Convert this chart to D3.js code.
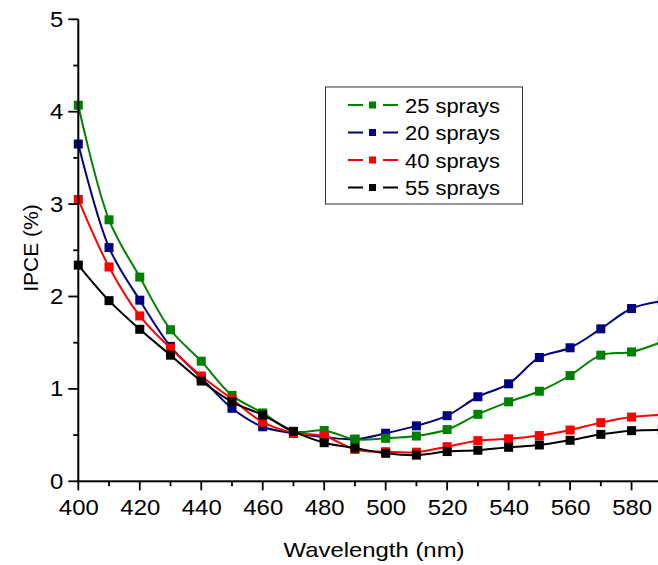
<!DOCTYPE html>
<html>
<head>
<meta charset="utf-8">
<script src="https://cdn.jsdelivr.net/npm/d3@7"></script>
<style>
  html, body { margin: 0; padding: 0; background: #fff; color: #000; }
  svg { display: block; overflow: hidden; }
  text { font-family: "Liberation Sans", Arial, sans-serif; fill: #000; }
</style>
</head>
<body>
<div id="chart"></div>
<script>
// wavelength (nm)
const wavelengths = [400, 410, 420, 430, 440, 450, 460, 470, 480, 490, 500, 510, 520, 530, 540, 550, 560, 570, 580, 590];

// IPCE (%)
const sprays25 = [4.07, 2.83, 2.21, 1.64, 1.30, 0.93, 0.74, 0.54, 0.55, 0.455, 0.465, 0.49, 0.56, 0.725, 0.86, 0.975, 1.145, 1.365, 1.40, 1.51];
const sprays20 = [3.65, 2.53, 1.96, 1.46, 1.12, 0.79, 0.59, 0.52, 0.48, 0.455, 0.52, 0.60, 0.71, 0.915, 1.055, 1.34, 1.445, 1.65, 1.87, 1.95];
const sprays40 = [3.05, 2.32, 1.79, 1.44, 1.14, 0.89, 0.64, 0.525, 0.49, 0.345, 0.32, 0.315, 0.375, 0.44, 0.46, 0.495, 0.555, 0.635, 0.695, 0.72];
const sprays55 = [2.34, 1.955, 1.645, 1.365, 1.085, 0.86, 0.717, 0.54, 0.418, 0.36, 0.303, 0.283, 0.322, 0.336, 0.368, 0.393, 0.444, 0.508, 0.548, 0.556];

const seriesNames = ["25 sprays", "20 sprays", "40 sprays", "55 sprays"];
const seriesColors = ["#008000", "#000080", "#ff0000", "#000000"];
const seriesValues = [sprays25, sprays20, sprays40, sprays55];

const xTicks = [400, 420, 440, 460, 480, 500, 520, 540, 560, 580];
const xMinorTicks = [410, 430, 450, 470, 490, 510, 530, 550, 570, 590];
const yTicks = [0, 1, 2, 3, 4, 5];
const yMinorTicks = [0.5, 1.5, 2.5, 3.5, 4.5];

const W = 658, H = 565;

const svg = d3.select("#chart").append("svg")
    .attr("width", W)
    .attr("height", H);

const x = d3.scaleLinear().domain([400, 590]).range([78.3, 662.3]);
const y = d3.scaleLinear().domain([0, 5]).range([481.3, 19.3]);

const series = seriesNames.map((name, i) => ({
    name: name,
    color: seriesColors[i],
    points: wavelengths.map((w, j) => ({ x: w, y: seriesValues[i][j] }))
}));

// draw order: blue, green, red, black on top
const drawOrder = [1, 0, 2, 3];

const valueLine = d3.line()
    .x(d => x(d.x))
    .y(d => y(d.y))
    .curve(d3.curveCatmullRom.alpha(0.5));

const plot = svg.append("g");
drawOrder.forEach(i => {
    const s = series[i];
    plot.append("path")
        .datum(s.points)
        .attr("fill", "none")
        .attr("stroke", s.color)
        .attr("stroke-width", 2)
        .attr("d", valueLine);
    plot.selectAll(null)
        .data(s.points)
        .enter()
        .append("rect")
        .attr("x", d => x(d.x) - 4.5)
        .attr("y", d => y(d.y) - 4.5)
        .attr("width", 9)
        .attr("height", 9)
        .attr("fill", s.color);
});

// axis frame and ticks as filled bars (placed with the scales)
const frame = svg.append("g").attr("fill", "#000");

frame.append("rect")
    .attr("x", x(400) - 1).attr("y", y(0) - 1)
    .attr("width", x(590) - x(400) + 1).attr("height", 2);
frame.append("rect")
    .attr("x", x(400) - 1).attr("y", y(5))
    .attr("width", 2).attr("height", y(0) - y(5) + 1);

frame.selectAll(null)
    .data(xTicks)
    .enter()
    .append("rect")
    .attr("x", d => x(d) - 0.9).attr("y", y(0))
    .attr("width", 1.8).attr("height", 9);
frame.selectAll(null)
    .data(xMinorTicks)
    .enter()
    .append("rect")
    .attr("x", d => x(d) - 0.9).attr("y", y(0))
    .attr("width", 1.8).attr("height", 5);
frame.selectAll(null)
    .data(yTicks)
    .enter()
    .append("rect")
    .attr("x", x(400) - 10).attr("y", d => y(d) - 0.9)
    .attr("width", 10).attr("height", 1.8);
frame.selectAll(null)
    .data(yMinorTicks)
    .enter()
    .append("rect")
    .attr("x", x(400) - 5).attr("y", d => y(d) - 0.9)
    .attr("width", 5).attr("height", 1.8);

// tick labels from d3 axes
const xAxis = d3.axisBottom(x).tickValues(xTicks).tickSize(0).tickPadding(18)
    .tickFormat(d3.format("d"));
const yAxis = d3.axisLeft(y).tickValues(yTicks).tickSize(0).tickPadding(15)
    .tickFormat(d3.format("d"));

const gx = svg.append("g").attr("transform", `translate(0,${y(0)})`).call(xAxis);
const gy = svg.append("g").attr("transform", `translate(${x(400)},0)`).call(yAxis);
gx.select(".domain").remove();
gy.select(".domain").remove();
gx.selectAll(".tick line").remove();
gy.selectAll(".tick line").remove();

gx.attr("font-size", 22);
gy.attr("font-size", 22);
gx.selectAll(".tick text")
    .attr("textLength", d => String(d).length * 13.3)
    .attr("lengthAdjust", "spacingAndGlyphs");
gy.selectAll(".tick text")
    .attr("textLength", d => String(d).length * 13.3)
    .attr("lengthAdjust", "spacingAndGlyphs");

// axis titles (glyphs a bit wide in the picture, hence textLength)
svg.append("text")
    .attr("x", 374)
    .attr("y", 557)
    .attr("text-anchor", "middle")
    .attr("font-size", 21)
    .attr("textLength", 181)
    .attr("lengthAdjust", "spacingAndGlyphs")
    .text("Wavelength (nm)");

svg.append("text")
    .attr("transform", "translate(38,248) rotate(-90)")
    .attr("text-anchor", "middle")
    .attr("font-size", 21)
    .text("IPCE (%)");

// legend
const legend = svg.append("g");
legend.append("rect")
    .attr("x", 325.5)
    .attr("y", 87)
    .attr("width", 197)
    .attr("height", 117)
    .attr("fill", "#fff")
    .attr("stroke", "#333")
    .attr("stroke-width", 1);

series.forEach((s, i) => {
    const cy = 105 + i * 27.5;
    legend.append("line").attr("x1", 348).attr("x2", 363).attr("y1", cy).attr("y2", cy)
        .attr("stroke", s.color).attr("stroke-width", 2);
    legend.append("line").attr("x1", 383).attr("x2", 398).attr("y1", cy).attr("y2", cy)
        .attr("stroke", s.color).attr("stroke-width", 2);
    legend.append("rect").attr("x", 369).attr("y", cy - 3.5).attr("width", 7).attr("height", 7)
        .attr("fill", s.color);
    legend.append("text")
        .attr("x", 405)
        .attr("y", cy + 7.5)
        .attr("font-size", 20)
        .attr("textLength", 95)
        .attr("lengthAdjust", "spacingAndGlyphs")
        .text(s.name);
});
</script>
</body>
</html>
